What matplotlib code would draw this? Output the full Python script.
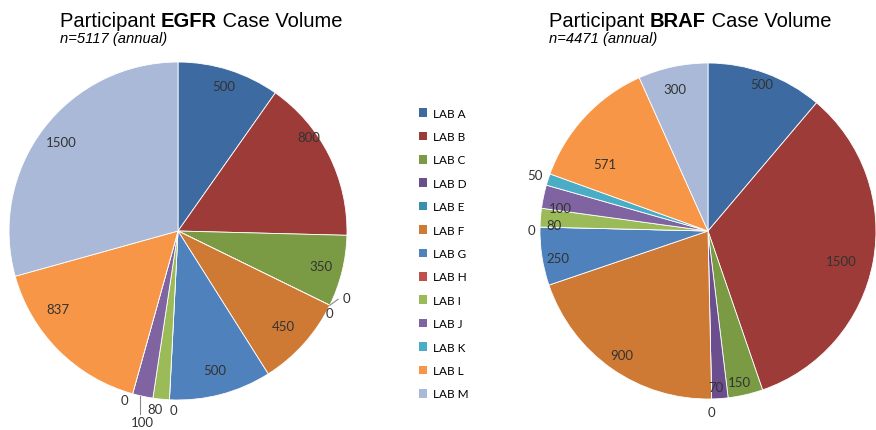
import numpy as np
import matplotlib
matplotlib.use("Agg")
import matplotlib.pyplot as plt
from matplotlib.patches import Patch

labs = ["LAB A", "LAB B", "LAB C", "LAB D", "LAB E", "LAB F", "LAB G",
        "LAB H", "LAB I", "LAB J", "LAB K", "LAB L", "LAB M"]
egfr = [500, 800, 350, 0, 0, 450, 500, 0, 80, 100, 0, 837, 1500]
braf = [500, 1500, 150, 70, 0, 900, 250, 0, 80, 100, 50, 571, 300]

colors = ["#3D6AA0", "#9D3B38", "#7A9A43", "#6A4E8E", "#3892A9", "#CF7A34",
          "#4F81BD", "#C0504D", "#9BBB59", "#8064A2", "#4BACC6", "#F79646",
          "#A9B9D7"]

# label placement (radius as fraction of pie radius, angle tweak in degrees)
egfr_r = [0.90, 0.95, 0.87, 1.07, 1.02, 0.84, 0.85, 1.06, 1.06, 1.15, 1.05, 0.85, 0.87]
egfr_da = [0, -9, 0, -4.5, 2.5, 0, 0, -1.5, 1.5, -1.5, 2, 12, 0]
braf_r = [0.93, 0.81, 0.92, 0.93, 1.08, 0.90, 0.91, 1.05, 0.92, 0.89, 1.08, 0.73, 0.87]
braf_da = [0, 2, 1, 1, 0, 0, -1.5, -1, -2.5, -3, 0, -10, -1]

plt.rcParams["font.family"] = ["Lato", "DejaVu Sans"]
fig = plt.figure(figsize=(8.76, 4.31), dpi=100)


def draw_pie(rect, vals, rad, dang):
    ax = fig.add_axes(rect)
    ax.pie(vals, colors=colors, startangle=90, counterclock=False,
           wedgeprops=dict(edgecolor="white", linewidth=0.6))
    ax.set_xlim(-1, 1)
    ax.set_ylim(-1, 1)
    ax.set_aspect("equal")
    ax.axis("off")
    tot = float(sum(vals))
    cum = np.cumsum([0] + list(vals))
    for i, v in enumerate(vals):
        mid = (cum[i] + cum[i + 1]) / 2 / tot * 360 + dang[i]
        th = np.radians(mid)
        ax.text(rad[i] * np.sin(th), rad[i] * np.cos(th), str(v),
                ha="center", va="center", fontsize=9.5, color="#333333")
    return ax, cum / tot * 360


def title(x, y, gene, n):
    t1 = fig.text(x, y, "Participant ", fontsize=14.5,
                  family="Liberation Sans", va="baseline")
    a2 = fig.add_artist(plt.Annotation(gene, xy=(1, 0), xycoords=t1, va="bottom",
                                       fontsize=14.5, family="Liberation Sans",
                                       weight="bold"))
    fig.add_artist(plt.Annotation(" Case Volume", xy=(1, 0), xycoords=a2,
                                  va="bottom", fontsize=14.5,
                                  family="Liberation Sans"))
    fig.text(x, y - 0.038, f"n={n} (annual)", fontsize=10.6,
             family="Liberation Sans", style="italic", va="baseline")


ax1, ang1 = draw_pie([0.0103, 0.0696, 0.3858, 0.7842], egfr, egfr_r, egfr_da)
ax2, ang2 = draw_pie([0.6164, 0.0719, 0.3836, 0.7796], braf, braf_r, braf_da)

# leader lines on the EGFR chart
lc = "#888888"
a = np.radians(ang1[4])
b = np.radians(ang1[4] - 3)
ax1.plot([np.sin(a), 1.03 * np.sin(b)], [np.cos(a), 1.03 * np.cos(b)],
         color=lc, lw=0.8, clip_on=False)
mj = np.radians((ang1[9] + ang1[10]) / 2 + 1)
yl = 1.15 * np.cos(np.radians((ang1[9] + ang1[10]) / 2 - 1.5))
ax1.plot([np.sin(mj), np.sin(mj)], [np.cos(mj), yl + 0.045],
         color=lc, lw=0.8, clip_on=False)

title(60 / 876, 1 - 27 / 431, "EGFR", sum(egfr))
title(549 / 876, 1 - 27 / 431, "BRAF", sum(braf))

handles = [Patch(facecolor=c, edgecolor="none") for c in colors]
fig.legend(handles, labs, loc="upper left", bbox_to_anchor=(408 / 876, 1 - 98 / 431),
           frameon=False, fontsize=8.5, handlelength=0.75, handleheight=0.75,
           handletextpad=0.5, labelspacing=1.05)

fig.savefig("out.png", dpi=100)
